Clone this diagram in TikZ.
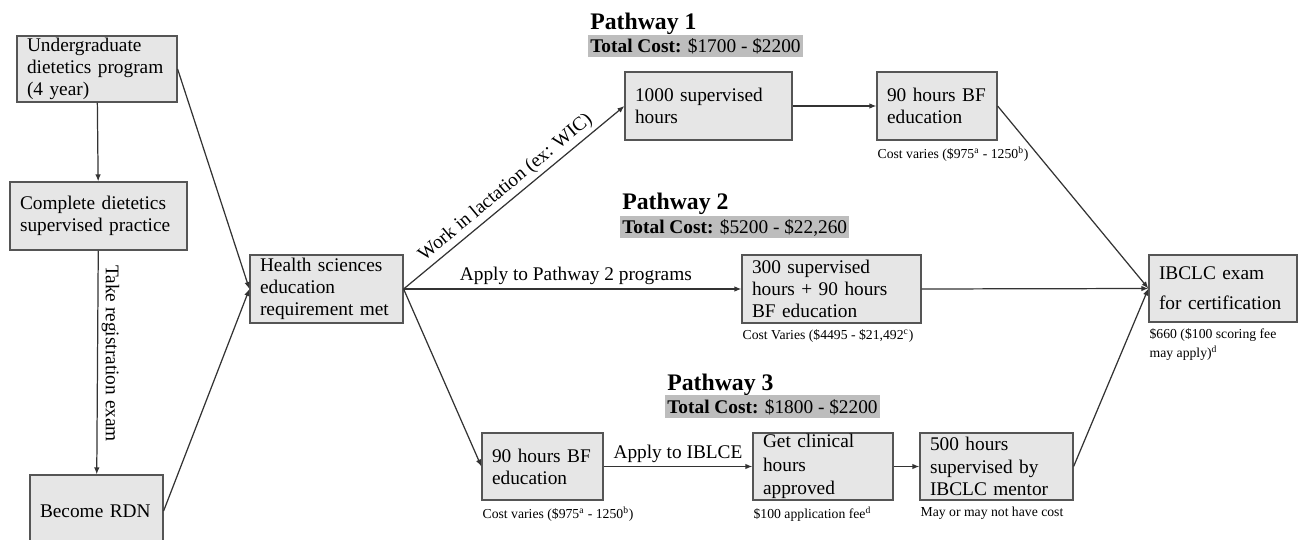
\documentclass[tikz,border=0pt]{standalone}
\usepackage{fontspec}
\setmainfont{Liberation Serif}
\usepackage{xcolor}
\definecolor{boxfill}{HTML}{E6E6E6}
\definecolor{boxline}{HTML}{555555}
\definecolor{wire}{HTML}{333333}
\definecolor{costbar}{HTML}{BDBDBD}
\usetikzlibrary{arrows.meta,positioning}
\tikzset{
  >={Latex[length=1.4mm,width=1.1mm]},
  box/.style      ={draw=boxline,fill=boxfill,line width=0.7pt,
                    font=\fontsize{11}{12.6}\selectfont,align=left,
                    inner xsep=0.2cm,inner ysep=0pt},
  note/.style     ={font=\fontsize{7.8}{10.6}\selectfont,align=left,
                    inner sep=0.5pt,anchor=north west,yshift=-0.1cm},
  pathtitle/.style={font=\fontsize{13.5}{15}\selectfont\bfseries,
                    anchor=base west,inner sep=0pt},
  cost/.style     ={fill=costbar,font=\fontsize{11}{13}\selectfont,
                    anchor=base west,inner xsep=0.04cm,inner ysep=0pt,
                    text height=0.36cm,text depth=0.09cm},
  flow/.style     ={->,draw=wire,line width=0.7pt},
  lbl/.style      ={font=\fontsize{11}{13}\selectfont,inner sep=2pt},
}
\begin{document}
\begin{tikzpicture}[x=0.02cm,y=-0.02cm]
\useasboundingbox (0,0) rectangle (1304,540);
\clip (0,0) rectangle (1304,540);
% dietetics route
\node[box,text width=2.8cm,minimum height=1.32cm] (ug) at (97,69) {Undergraduate\\ dietetics program\\ (4 year)};
\node[box,text width=3.14cm,minimum height=1.36cm] (sp) at (98.5,216) {Complete dietetics\\ supervised practice};
\node[box,text width=2.26cm,minimum height=1.44cm] (rdn) at (96.5,511) {Become RDN};
\node[box,text width=2.66cm,minimum height=1.36cm] (hs) at (326.5,289) {Health sciences\\ education\\ requirement met};
% pathway 1
\node[pathtitle] (t1) at (590,30) {Pathway 1};
\node[cost] (c1) at (588,53) {\textbf{Total Cost:} \$1700 - \$2200};
\node[box,text width=2.94cm,minimum height=1.36cm] (p1a) at (708.5,106) {1000 supervised\\ hours};
\node[box,text width=2.0cm,minimum height=1.36cm] (p1b) at (937,106) {90 hours BF\\ education};
\node[note] (n1b) at (p1b.south west) {Cost varies (\$975\textsuperscript{a} - 1250\textsuperscript{b})};
% pathway 2
\node[pathtitle] (t2) at (622,210) {Pathway 2};
\node[cost] (c2) at (620,234) {\textbf{Total Cost:} \$5200 - \$22,260};
\node[box,text width=3.18cm,minimum height=1.36cm] (p2) at (831.5,289) {300 supervised\\ hours + 90 hours\\ BF education};
\node[note] (n2) at (p2.south west) {Cost Varies (\$4495 - \$21,492\textsuperscript{c})};
% pathway 3
\node[pathtitle] (t3) at (667,390) {Pathway 3};
\node[cost] (c3) at (665,413) {\textbf{Total Cost:} \$1800 - \$2200};
\node[box,text width=2.02cm,minimum height=1.34cm] (p3a) at (542.5,466.5) {90 hours BF\\ education};
\node[note] (n3a) at (p3a.south west) {Cost varies (\$975\textsuperscript{a} - 1250\textsuperscript{b})};
\node[box,text width=2.4cm,minimum height=1.34cm,font=\fontsize{11}{13.4}\selectfont] (p3b) at (823,466.5) {Get clinical\\ hours\\ approved};
\node[note] (n3b) at (p3b.south west) {\$100 application fee\textsuperscript{d}};
\node[box,text width=2.66cm,minimum height=1.34cm] (p3c) at (996.5,466.5) {500 hours\\ supervised by\\ IBCLC mentor};
\node[note] (n3c) at (p3c.south west) {May or may not have cost};
% exam
\node[box,text width=2.56cm,minimum height=1.34cm,font=\fontsize{11}{17}\selectfont] (ex) at (1223,288.5) {IBCLC exam\\ for certification};
\node[note] (nex) at (ex.south west) {\$660 (\$100 scoring fee\\ may apply)\textsuperscript{d}};
% connectors
\draw[flow] (ug) -- (sp);
\draw[flow] (sp) -- node[lbl,rotate=-90,anchor=south,pos=0.46] {Take registration exam} (rdn);
\draw[flow] (ug.east) -- (hs.west);
\draw[flow] (rdn.east) -- (hs.west);
\draw[flow] (hs.east) -- node[lbl,sloped,above,pos=0.5] {Work in lactation (ex: WIC)} (p1a.west);
\draw[flow] (hs.east) -- node[lbl,above,pos=0.51] {Apply to Pathway 2 programs} (p2.west);
\draw[flow] (hs.east) -- (p3a.west);
\draw[flow] (p1a) -- (p1b);
\draw[flow] (p3a) -- node[lbl,above] {Apply to IBLCE} (p3b);
\draw[flow] (p3b) -- (p3c);
\draw[flow] (p1b.east) -- (ex.west);
\draw[flow] (p2.east) -- (ex.west);
\draw[flow] (p3c.east) -- (ex.west);
\end{tikzpicture}
\end{document}
